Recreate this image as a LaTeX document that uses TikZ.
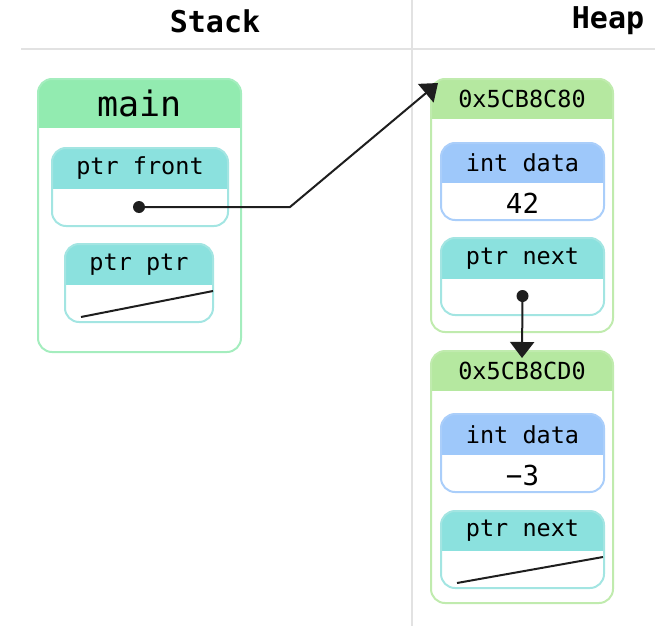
\documentclass[tikz,border=0pt]{standalone}
\usepackage{fontspec}
\newfontfamily\codefont{DejaVu Sans Mono}
\usetikzlibrary{arrows.meta,calc}

% palette
\definecolor{framefill}{HTML}{92EBB0}
\definecolor{frameline}{HTML}{A4EDBE}
\definecolor{heapfill}{HTML}{B5E8A0}
\definecolor{heapline}{HTML}{C0EBAE}
\definecolor{ptrfill}{HTML}{8BE1DE}
\definecolor{ptrline}{HTML}{A3E5E2}
\definecolor{intfill}{HTML}{9EC8FA}
\definecolor{intline}{HTML}{AACEFA}
\definecolor{rule}{HTML}{E2E2E2}
\definecolor{ink}{HTML}{1E1E1E}

\newcommand\cellradius{14pt}

% a memory cell: #1 name, #2 x, #3 y, #4 width, #5 height,
% #6 header height, #7 colour prefix, #8 title, #9 title font
\newcommand\memcell[9]{%
  \node[cellbase, minimum width=#4pt, minimum height=#5pt] (#1) at (#2,#3) {};
  \begin{scope}
    \clip[rounded corners=\cellradius] (#1.north west) rectangle (#1.south east);
    \fill[#7fill] (#1.north west) rectangle ([yshift=-#6pt]#1.north east);
  \end{scope}
  \draw[#7line, line width=2pt, rounded corners=\cellradius]
    (#1.north west) rectangle (#1.south east);
  \node[font=#9] (#1-title) at ($(#1.north)!0.5!([yshift=-#6pt]#1.north)$) {#8};
}

\tikzset{
  cellbase/.style={rectangle, draw=none, inner sep=0pt, outer sep=0pt, anchor=north west},
  pointer/.style={ink, line width=2pt, -{Triangle[length=16pt,width=24pt]}},
  nullptr/.style={ink, line width=2pt},
  dot/.style={circle, fill=ink, inner sep=0pt, minimum size=12pt},
  sect/.style={font=\codefont\bfseries\fontsize{30pt}{34pt}\selectfont},
  value/.style={font=\codefont\fontsize{27.5pt}{32pt}\selectfont},
}
\newcommand\lblfont{\codefont\fontsize{23.5pt}{28pt}\selectfont}
\newcommand\framefont{\codefont\fontsize{35pt}{40pt}\selectfont}

\begin{document}
\begin{tikzpicture}[x=1pt, y=-1pt]
\useasboundingbox (0,0) rectangle (655,626);

% section headings and dividers
\node[sect] (stack) at (215,21) {Stack};
\node[sect] (heap) at (608,21) {Heap};
\draw[rule, line width=2pt] (21,49) -- (655,49);
\draw[rule, line width=2pt] (412,0) -- (412,626);

% stack frame of main
\memcell{main}{38}{79}{203}{273}{49}{frame}{main}{\framefont}
\memcell{front}{52}{148}{176}{78}{41}{ptr}{ptr front}{\lblfont}
\memcell{pp}{65}{244}{148}{78}{41}{ptr}{ptr ptr}{\lblfont}

% first heap node
\memcell{nodeA}{431}{79}{182}{253}{40}{heap}{0x5CB8C80}{\lblfont}
\memcell{dataA}{441}{143}{163}{77}{40}{int}{int data}{\lblfont}
\node[value] (valA) at (522.5,203) {42};
\memcell{nextA}{441}{238}{163}{77}{41}{ptr}{ptr next}{\lblfont}

% second heap node
\memcell{nodeB}{431}{351}{182}{252}{40}{heap}{0x5CB8CD0}{\lblfont}
\memcell{dataB}{441}{414}{163}{78}{41}{int}{int data}{\lblfont}
\node[value] (valB) at (522.5,475) {−3};
\memcell{nextB}{441}{511}{163}{77}{40}{ptr}{ptr next}{\lblfont}

% null pointers
\draw[nullptr] ([shift={(16pt,5pt)}]pp.south west) -- ([shift={(0pt,31pt)}]pp.south east);
\draw[nullptr] ([shift={(16pt,5pt)}]nextB.south west) -- ([shift={(-1pt,31pt)}]nextB.south east);

% pointer front -> first node
\node[dot] (frontdot) at (139,207) {};
\coordinate (bend) at (290,207);
\draw[pointer] (frontdot.center) -- (bend) -- ([shift={(7pt,-4pt)}]nodeA.north west);

% next of first node -> second node
\node[dot] (nextdot) at (522.5,296) {};
\draw[pointer] (nextdot.center) -- ([yshift=-7pt]nodeB.north);
\end{tikzpicture}
\end{document}
